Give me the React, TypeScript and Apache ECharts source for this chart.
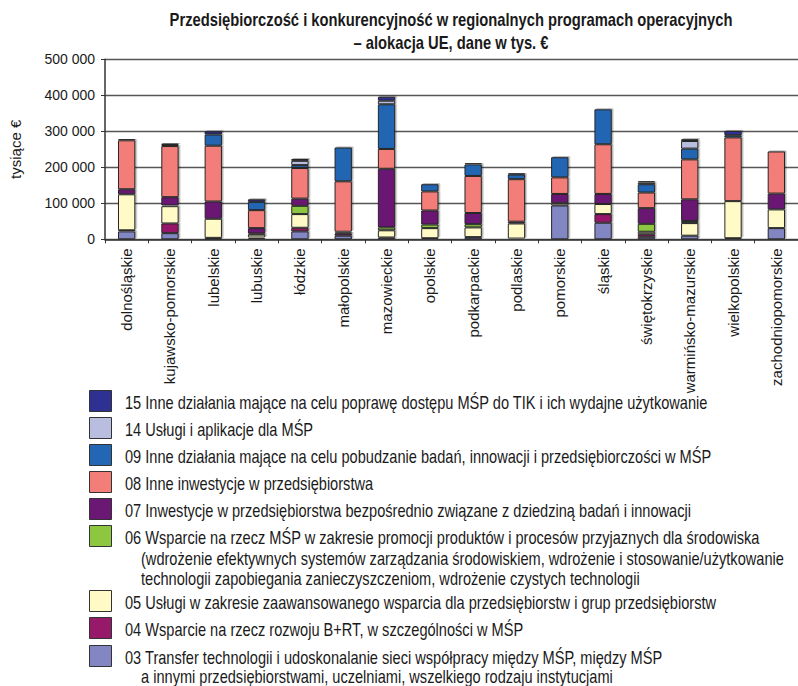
import React, { useEffect, useRef } from "react";
import * as echarts from "echarts";

const categories = [
  "dolnośląskie", "kujawsko-pomorskie", "lubelskie", "lubuskie", "łódzkie", "małopolskie",
  "mazowieckie", "opolskie", "podkarpackie", "podlaskie", "pomorskie", "śląskie",
  "świętokrzyskie", "warmińsko-mazurskie", "wielkopolskie", "zachodniopomorskie",
];

const s03 = [22000, 17000, 4000, 3000, 22000, 10000, 5000, 3000, 6000, 2000, 94000, 46000, 7000, 10000, 3000, 31000];
const s04 = [3000, 27000, 0, 2000, 10000, 6000, 0, 0, 0, 0, 0, 24000, 7000, 0, 0, 0];
const s05 = [100000, 48000, 53000, 8000, 38000, 3000, 20000, 28000, 27000, 42000, 6000, 28000, 7000, 35000, 103000, 52000];
const s06 = [0, 2000, 0, 3000, 23000, 0, 8000, 10000, 9000, 0, 0, 0, 22000, 6000, 0, 0];
const s07 = [14000, 23000, 48000, 15000, 20000, 2000, 163000, 39000, 31000, 5000, 26000, 28000, 43500, 60000, 0, 44000];
const s08 = [136000, 142000, 155000, 50000, 85000, 140000, 55000, 53000, 103000, 118000, 46000, 138000, 43500, 111000, 177000, 117000];
const s09 = [3000, 3000, 31000, 23000, 8000, 94000, 124000, 20000, 32000, 13000, 56000, 97000, 23000, 30000, 6000, 0];
const s14 = [0, 4000, 0, 0, 12000, 0, 10000, 0, 0, 0, 0, 0, 5000, 21000, 0, 0];
const s15 = [0, 0, 9000, 7000, 5000, 0, 11000, 0, 3000, 3000, 0, 0, 3000, 5000, 12000, 0];

// bottom to top
const seriesNames = [
  "03 Transfer technologii i udoskonalanie sieci współpracy między MŚP, między MŚP\na innymi przedsiębiorstwami, uczelniami, wszelkiego rodzaju instytucjami",
  "04 Wsparcie na rzecz rozwoju B+RT, w szczególności w MŚP",
  "05 Usługi w zakresie zaawansowanego wsparcia dla przedsiębiorstw i grup przedsiębiorstw",
  "06 Wsparcie na rzecz MŚP w zakresie promocji produktów i procesów przyjaznych dla środowiska\n(wdrożenie efektywnych systemów zarządzania środowiskiem, wdrożenie i stosowanie/użytkowanie\ntechnologii zapobiegania zanieczyszczeniom, wdrożenie czystych technologii",
  "07 Inwestycje w przedsiębiorstwa bezpośrednio związane z dziedziną badań i innowacji",
  "08 Inne inwestycje w przedsiębiorstwa",
  "09 Inne działania mające na celu pobudzanie badań, innowacji i przedsiębiorczości w MŚP",
  "14 Usługi i aplikacje dla MŚP",
  "15 Inne działania mające na celu poprawę dostępu MŚP do TIK i ich wydajne użytkowanie",
];
const seriesData = [s03, s04, s05, s06, s07, s08, s09, s14, s15];
const seriesColors = ["#8286c2", "#96196a", "#fffac6", "#8dc63f", "#6a1873", "#f37d78", "#2366b3", "#b9bde0", "#2e3092"];

const titleLines = [
  "Przedsiębiorczość i konkurencyjność w regionalnych programach operacyjnych",
  "– alokacja UE, dane w tys. €",
];

const yTicks = [0, 100000, 200000, 300000, 400000, 500000];

const SANS = "Liberation Sans";
const NARROW_SCALE = 0.82;

export default function App() {
  const ref = useRef<HTMLDivElement>(null);
  useEffect(() => {
    if (!ref.current) return;
    const chart = echarts.init(ref.current, undefined, { renderer: "svg" });

    const graphic: any[] = [];
    titleLines.forEach((t, i) => {
      graphic.push({
        type: "text",
        x: 451,
        y: 19 + i * 23,
        scaleX: NARROW_SCALE,
        style: {
          text: t,
          fontFamily: SANS,
          fontSize: 18,
          fontWeight: "bold",
          fill: "#1a1a1a",
          align: "center",
          verticalAlign: "middle",
        },
      });
    });

    // legend (top to bottom = reversed order)
    const legendTops = [390, 417, 444, 471, 498, 525, 590, 617, 645];
    const order = seriesNames.map((_, i) => seriesNames.length - 1 - i);
    order.forEach((si, k) => {
      const top = legendTops[k];
      graphic.push({
        type: "rect",
        shape: { x: 89.5, y: top + 0.5, width: 22, height: 21 },
        style: { fill: seriesColors[si], stroke: "#333", lineWidth: 1 },
      });
      const lines = seriesNames[si].split("\n");
      const lineGap = k === order.length - 1 ? 19 : 20.5;
      lines.forEach((ln, li) => {
        graphic.push({
          type: "text",
          x: li === 0 ? 125 : 141,
          y: top + 12.5 + li * lineGap,
          scaleX: NARROW_SCALE,
          style: {
            text: ln,
            fontFamily: SANS,
            fontSize: 17.8,
            fill: "#1a1a1a",
            verticalAlign: "middle",
            align: "left",
          },
        });
      });
    });

    chart.setOption({
      animation: false,
      backgroundColor: "#ffffff",
      grid: { left: 102, right: -2, top: 59.3, height: 180, containLabel: false },
      xAxis: {
        type: "category",
        data: categories,
        axisLine: { lineStyle: { color: "#333", width: 1.5 } },
        axisTick: { show: true, length: 4, alignWithLabel: false, lineStyle: { color: "#333" } },
        axisLabel: {
          rotate: 90,
          interval: 0,
          margin: 9,
          fontFamily: SANS,
          fontSize: 15,
          color: "#1a1a1a",
        },
      },
      yAxis: {
        type: "value",
        min: 0,
        max: 500000,
        interval: 100000,
        name: "tysiące €",
        nameLocation: "middle",
        nameGap: 82,
        nameRotate: 90,
        nameTextStyle: { fontFamily: SANS, fontSize: 15, color: "#1a1a1a" },
        axisLine: { show: true, lineStyle: { color: "#333", width: 1.5 } },
        axisTick: { show: true, length: 4, inside: false, lineStyle: { color: "#333" } },
        splitLine: { show: true, lineStyle: { color: "#555", width: 1.3 } },
        axisLabel: {
          margin: 10,
          fontFamily: SANS,
          fontSize: 14,
          color: "#1a1a1a",
          formatter: (v: number) => (yTicks.includes(v) ? String(v).replace(/\B(?=(\d{3})+(?!\d))/g, " ") : ""),
        },
      },
      series: seriesData.map((d, i) => ({
        type: "bar",
        name: seriesNames[i],
        stack: "total",
        barWidth: "40%",
        data: d.map((v) => (v === 0 ? null : v)),
        itemStyle: {
          color: seriesColors[i],
          borderColor: "#262626",
          borderWidth: 1,
          shadowColor: "rgba(0,0,0,0.3)",
          shadowOffsetX: 1.5,
          shadowOffsetY: -1,
          shadowBlur: 1,
        },
      })),
      graphic,
    });
    return () => chart.dispose();
  }, []);
  return (
    <div
      ref={ref}
      style={{ position: "fixed", left: 0, top: 0, width: 798, height: 686, background: "#fff" }}
    />
  );
}
